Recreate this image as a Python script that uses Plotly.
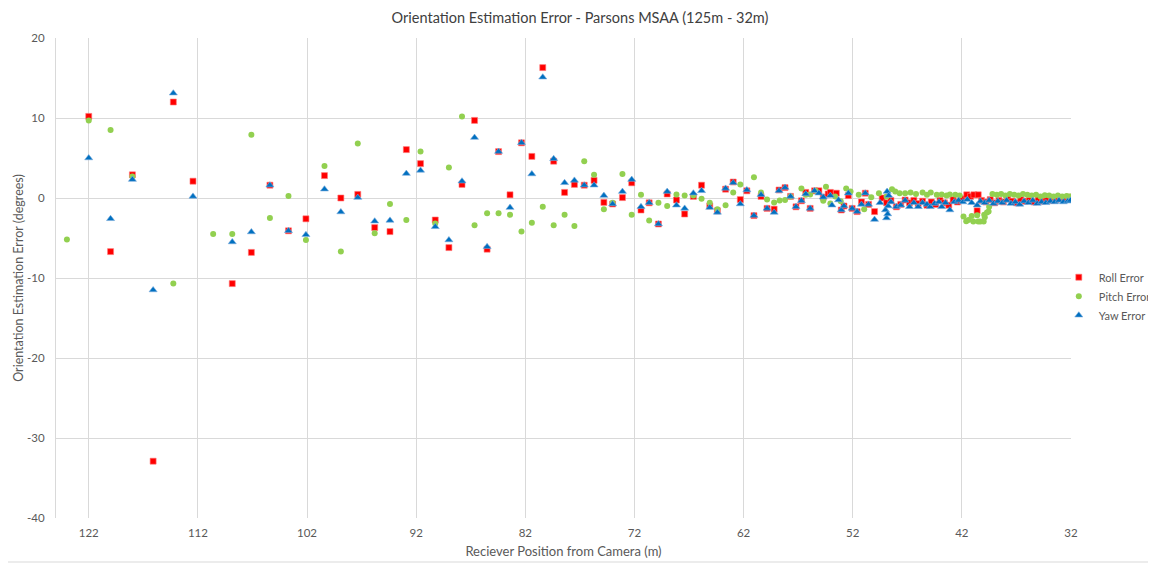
import plotly.graph_objects as go

# ---------------- data ----------------
roll_x = [122.0, 120.0, 118.0, 116.1, 114.25, 112.45, 108.85, 107.1, 105.4, 103.7, 102.1, 100.4, 98.9, 97.35,
          95.8, 94.4, 92.9, 91.6, 90.25, 89.0, 87.8, 86.65, 85.5, 84.45, 83.4, 82.35, 81.4, 80.4, 79.4, 78.4,
          77.5, 76.6, 75.7, 74.8, 74.0, 73.1, 72.25, 71.4, 70.65, 69.8, 69.0, 68.15, 67.4, 66.6, 65.85, 65.1,
          64.4, 63.65, 62.95, 62.3, 61.7, 61.05, 60.4, 59.85, 59.2, 58.75, 58.2, 57.7, 57.2, 56.7, 56.3, 55.9,
          55.5, 55.1, 54.7, 54.25, 54.05, 53.5, 53.05, 52.8, 52.4, 52.05, 51.6, 51.2, 50.85, 50.55, 50.0, 49.3,
          48.9, 48.5, 48.0, 47.6, 47.2, 46.8, 46.4, 46.0, 45.6, 45.2, 44.8, 44.4, 44.0, 43.6, 43.2, 42.8, 42.4,
          42.0, 41.55, 41.2, 40.9, 40.6, 40.5, 40.2, 39.8, 39.4, 39.0, 38.6, 38.2, 37.8, 37.4, 37.0, 36.6, 36.2,
          35.8, 35.4, 35.0, 34.6, 34.2, 33.8, 33.4, 33.0, 32.6, 32.2]
roll_y = [10.2, -6.7, 2.9, -32.9, 12.0, 2.1, -10.7, -6.8, 1.6, -4.1, -2.6, 2.8, 0.0, 0.45,
          -3.7, -4.2, 6.05, 4.3, -2.75, -6.2, 1.7, 9.7, -6.4, 5.8, 0.4, 6.9, 5.2, 16.3, 4.6, 0.7,
          1.7, 1.6, 2.2, -0.55, -0.75, 0.05, 1.9, -1.5, -0.6, -3.25, 0.5, -0.25, -2.0, 0.2, 1.6, -1.0,
          -1.6, 1.1, 2.0, -0.2, 0.9, -2.2, 0.2, -1.3, -1.4, 1.0, 1.3, 0.2, -1.1, -0.35, 0.7, -1.3,
          0.9, 0.9, 0.1, 0.5, 0.7, 0.6, -1.5, -1.0, 0.3, -1.3, -1.7, -0.5, 0.6, -0.8, -1.7, 0.0,
          -0.6, -0.3, -1.1, -0.8, -0.25, -0.6, -0.3, -0.7, -0.4, -0.9, -0.5, -0.8, -0.3, -0.6, -0.9, -0.2, -0.5,
          -0.1, 0.4, 0.2, 0.4, -1.6, 0.4, -0.3, -0.5, -0.2, -0.6, -0.3, -0.5, -0.1, -0.4, -0.6, -0.2, -0.4,
          -0.3, -0.5, -0.2, -0.4, -0.1, -0.3, -0.2, 0.0, -0.1, 0.1]

pitch_x = [124.0, 122.0, 120.0, 118.0, 114.25, 110.6, 108.85, 107.1, 105.4, 103.7, 102.1, 100.4, 98.9, 97.35,
           95.8, 94.4, 92.9, 91.6, 90.25, 89.0, 87.8, 86.65, 85.5, 84.45, 83.4, 82.35, 81.4, 80.4, 79.4, 78.4,
           77.5, 76.6, 75.7, 74.8, 74.0, 73.1, 72.25, 71.4, 70.65, 69.8, 69.0, 68.15, 67.4, 66.6, 65.85, 65.1,
           64.4, 63.65, 62.95, 62.3, 61.05, 60.4, 59.85, 59.2, 58.7, 58.2, 57.7, 56.7, 56.3, 55.9, 55.4, 54.7,
           54.45, 54.05, 53.6, 53.1, 52.6, 52.2, 51.45, 50.95, 50.3, 49.6, 48.9, 48.4, 48.1, 47.7, 47.2, 46.7,
           46.2, 45.6, 45.2, 44.85, 44.3, 43.85, 43.4, 43.1, 42.6, 42.2, 41.85, 41.6, 41.4, 41.1, 40.95, 40.6,
           40.5, 40.3, 40.0, 39.9, 39.95, 39.7, 39.55, 39.5, 39.2, 38.8, 38.4, 38.0, 37.6, 37.2, 36.8, 36.4,
           36.0, 35.6, 35.2, 34.8, 34.4, 34.0, 33.6, 33.2, 32.8, 32.4, 32.1]
pitch_y = [-5.2, 9.7, 8.5, 2.7, -10.7, -4.5, -4.5, 7.9, -2.5, 0.25, -5.25, 4.0, -6.7, 6.8,
           -4.4, -0.75, -2.75, 5.8, -3.2, 3.8, 10.2, -3.4, -1.9, -1.9, -2.1, -4.2, -3.1, -1.1, -3.4, -2.1,
           -3.5, 4.6, 2.9, -1.4, -0.6, 3.0, -2.1, 0.4, -2.8, -0.6, -1.0, 0.45, 0.3, 0.3, -0.1, -0.6,
           -1.4, -0.9, 0.7, 1.7, 2.6, 0.7, -0.2, -0.55, -0.3, -0.25, 0.2, 1.2, 0.4, 0.45, 0.9, -0.35,
           1.4, -0.7, 0.2, -0.4, 1.2, 0.8, 0.4, -1.4, 0.1, 0.6, 0.2, 1.1, 0.8, 0.6, 0.6, 0.7,
           0.5, 0.7, 0.4, 0.7, 0.4, 0.45, 0.3, 0.45, 0.4, 0.3, -2.3, -2.9, -2.75, -2.25, -2.95, -2.15,
           -2.95, -2.95, -2.95, -2.4, -2.1, -1.8, -1.7, -1.1, 0.5, 0.4, 0.5, 0.3, 0.5, 0.4, 0.3, 0.5,
           0.4, 0.3, 0.4, 0.2, 0.35, 0.3, 0.2, 0.3, 0.2, 0.25, 0.2]

yaw_x = [122.0, 120.0, 118.0, 116.1, 114.25, 112.45, 108.85, 107.1, 105.4, 103.7, 102.1, 100.4, 98.9, 97.35,
         95.8, 94.4, 92.9, 91.6, 90.25, 89.0, 87.8, 86.65, 85.5, 84.45, 83.4, 82.35, 81.4, 80.4, 79.4, 78.4,
         77.5, 76.6, 75.7, 74.8, 74.0, 73.1, 72.25, 71.4, 70.65, 69.8, 69.0, 68.15, 67.4, 66.6, 65.85, 65.1,
         64.4, 63.65, 62.95, 62.3, 61.7, 61.05, 60.4, 59.85, 59.2, 58.75, 58.2, 57.7, 57.2, 56.7, 56.3, 55.9,
         55.5, 55.1, 54.7, 54.05, 53.9, 53.3, 53.05, 52.8, 52.4, 52.05, 51.6, 51.2, 50.85, 50.55, 50.0, 49.5,
         49.0, 48.9, 48.85, 48.8, 48.75, 48.7, 48.5, 48.0, 47.6, 47.2, 46.8, 46.4, 46.0, 45.6, 45.2, 44.9,
         44.5, 44.1, 43.85, 43.5, 43.1, 42.7, 42.3, 41.9, 41.5, 41.1, 40.6, 40.3, 39.9, 39.5, 39.1, 38.7,
         38.3, 37.9, 37.5, 37.1, 36.7, 36.3, 35.9, 35.5, 35.1, 34.7, 34.3, 33.9, 33.5, 33.1, 32.7, 32.3, 32.05]
yaw_y = [5.0, -2.6, 2.3, -11.5, 13.1, 0.2, -5.5, -4.25, 1.6, -4.1, -4.6, 1.1, -1.75, 0.05,
         -2.9, -2.8, 3.05, 3.45, -3.6, -5.25, 2.1, 7.55, -6.1, 5.8, -1.2, 6.9, 3.0, 15.1, 4.9, 1.9,
         2.2, 1.6, 1.6, 0.3, -0.75, 0.8, 2.3, -1.1, -0.6, -3.25, 0.8, -0.9, -1.3, 0.6, 0.9, -1.2,
         -1.8, 1.2, 1.9, -0.75, 1.0, -2.2, 0.4, -1.3, -1.8, 0.9, 1.3, 0.2, -1.1, -0.35, 0.5, -1.3,
         0.9, 0.6, 0.1, 0.3, -0.9, -0.25, -1.5, -1.0, 0.6, -1.3, -1.7, -0.8, 0.6, -0.8, -2.7, -0.6,
         -1.5, -2.5, 0.8, -2.0, -1.0, 0.3, -0.5, -1.1, -0.9, -0.3, -1.1, -0.6, -1.1, -0.6, -0.8, -1.1,
         -0.7, -0.5, -1.1, -0.6, -1.5, -0.5, -0.3, -0.5, -0.2, -0.6, -0.9, -0.4, -0.6, -0.3, -0.7, -0.4,
         -0.6, -0.3, -0.7, -0.5, -0.8, -0.4, -0.6, -0.3, -0.7, -0.5, -0.6, -0.4, -0.5, -0.3, -0.5, -0.4, -0.3]

x_ticks = [122, 112, 102, 92, 82, 72, 62, 52, 42, 32]
y_ticks = [-40, -30, -20, -10, 0, 10, 20]

FONT = "Lato, Carlito, 'Liberation Sans', sans-serif"
TXT = "#595959"
GRID = "#d9d9d9"

fig = go.Figure()
fig.add_trace(go.Scatter(x=roll_x, y=roll_y, mode="markers", name="Roll Error",
                         marker=dict(symbol="square", size=6, color="#ff0000",
                                     line=dict(width=1, color="rgba(255,120,120,0.6)"))))
fig.add_trace(go.Scatter(x=pitch_x, y=pitch_y, mode="markers", name="Pitch Error",
                         marker=dict(symbol="circle", size=6, color="#92d050",
                                     line=dict(width=0))))
fig.add_trace(go.Scatter(x=yaw_x, y=yaw_y, mode="markers", name="Yaw Error",
                         marker=dict(symbol="triangle-up", size=7, color="#0070c0",
                                     line=dict(width=1, color="rgba(120,170,220,0.6)"))))

# the page places the figure 8px from the top-left corner; margins compensate for that
fig.update_layout(
    width=1156, height=564,
    paper_bgcolor="white", plot_bgcolor="white",
    margin=dict(l=48, r=93, t=30, b=54, autoexpand=False),
    font=dict(family=FONT, color=TXT, size=12),
    title=dict(text="Orientation Estimation Error - Parsons MSAA (125m - 32m)",
               x=0.4948, xref="container", xanchor="center", y=0.982, yref="container", yanchor="middle",
               font=dict(family=FONT, size=14.5, color="#404040")),
    xaxis=dict(range=[125, 32], tickvals=x_ticks, ticktext=[str(v) for v in x_ticks],
               showgrid=True, gridcolor=GRID, gridwidth=1, zeroline=False, automargin=False,
               showline=False, ticks="", tickfont=dict(size=11.5, color=TXT), ticklabelstandoff=6,
               title=dict(text="Reciever Position from Camera (m)", font=dict(size=13, color=TXT),
                          standoff=9)),
    yaxis=dict(range=[-40, 20], tickvals=y_ticks, ticktext=[str(v) for v in y_ticks],
               showgrid=True, gridcolor=GRID, gridwidth=1, automargin=False,
               zeroline=False, showline=True, linecolor=GRID, linewidth=1, ticks="",
               tickfont=dict(size=11.5, color=TXT), ticklabelstandoff=8,
               title=dict(text="Orientation Estimation Error (degrees)", font=dict(size=12.5, color=TXT),
                          standoff=0)),
    legend=dict(xref="container", x=0.909, xanchor="left", yref="container", y=0.489, yanchor="middle",
                bgcolor="rgba(0,0,0,0)", font=dict(size=11, color=TXT), itemwidth=30, tracegroupgap=0),
    showlegend=True,
)

fig.add_shape(type="rect", xref="paper", yref="paper",
              x0=-0.06, x1=(1144 - 48) / 1015, y0=-(554 - 510) / 480, y1=1.08,
              line=dict(color=GRID, width=1), fillcolor="rgba(0,0,0,0)", layer="below")

fig.write_html("out.html")
